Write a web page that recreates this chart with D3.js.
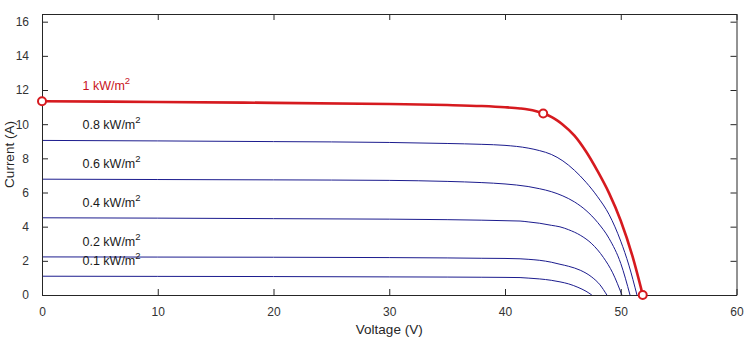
<!DOCTYPE html>
<html>
<head>
<meta charset="utf-8">
<script src="https://cdn.jsdelivr.net/npm/d3@7"></script>
<style>
  html, body { margin: 0; padding: 0; background: #fff; }
  svg { display: block; font-family: "Liberation Sans", Arial, sans-serif; }
</style>
</head>
<body>
<svg id="chart" width="747" height="347"></svg>
<script>
// ---- data ----
const seriesNames = ["1", "0.8", "0.6", "0.4", "0.2", "0.1"];

const v1  = [0, 10, 20, 30, 35, 38, 40, 41.3, 42, 42.7, 43.3, 44, 44.5, 45, 46, 47, 48, 49, 50, 51, 51.9];
const i1  = [11.34, 11.30, 11.25, 11.18, 11.12, 11.06, 10.99, 10.92, 10.86, 10.76, 10.63, 10.43, 10.22, 9.97, 9.33, 8.4, 7.25, 5.95, 4.35, 2.3, 0];

const v08 = [0, 10, 20, 30, 35, 38, 40, 42, 43, 44, 45, 46, 47, 48, 49, 50, 50.7, 51.4];
const i08 = [9.05, 9.02, 8.98, 8.93, 8.87, 8.82, 8.76, 8.6, 8.45, 8.23, 7.85, 7.3, 6.6, 5.75, 4.7, 3.15, 1.75, 0];

const v06 = [0, 10, 20, 30, 35, 38, 40, 42, 43, 44, 45, 46, 47, 48, 49, 50, 50.8];
const i06 = [6.78, 6.76, 6.74, 6.71, 6.65, 6.58, 6.5, 6.35, 6.22, 6.05, 5.8, 5.45, 4.95, 4.25, 3.3, 1.85, 0];

const v04 = [0, 10, 20, 30, 35, 38, 40, 41.3, 42, 43, 44, 44.75, 45.5, 46.5, 47.5, 48.5, 49.3, 50.1];
const i04 = [4.52, 4.5, 4.47, 4.44, 4.41, 4.38, 4.35, 4.33, 4.28, 4.2, 4.08, 3.99, 3.82, 3.5, 3.0, 2.2, 1.3, 0];

const v02 = [0, 10, 20, 30, 35, 38, 40, 41.3, 42, 43, 44, 44.75, 45.5, 46.5, 47.5, 48.2, 48.8];
const i02 = [2.23, 2.22, 2.21, 2.19, 2.17, 2.15, 2.14, 2.12, 2.09, 2.03, 1.92, 1.80, 1.68, 1.45, 1.05, 0.6, 0];

const v01 = [0, 10, 20, 30, 35, 38, 40, 41.3, 42, 43, 44, 44.75, 45.5, 46.3, 47, 47.5];
const i01 = [1.10, 1.09, 1.08, 1.06, 1.05, 1.04, 1.03, 1.02, 0.99, 0.94, 0.86, 0.77, 0.65, 0.45, 0.22, 0];

// marked points on the 1 kW/m2 curve: Isc, MPP, Voc
const markerV = [0, 43.3, 51.9];
const markerI = [11.34, 10.63, 0];

// label anchor positions (data units)
const labelV = [3.5, 3.5, 3.5, 3.5, 3.5, 3.5];
const labelI = [12.0, 9.71, 7.45, 5.16, 2.88, 1.75];

const xTicks = [0, 10, 20, 30, 40, 50, 60];
const yTicks = [0, 2, 4, 6, 8, 10, 12, 14, 16];

// ---- chart ----
const svg = d3.select("#chart");
const padL = 42, padR = 736.5, padT = 14, padB = 295;

const x = d3.scaleLinear().domain([0, 60]).range([padL, padR]);
const y = d3.scaleLinear().domain([0, 16.45]).range([padB, padT]);

const curves = [
  { name: seriesNames[0], v: v1,  i: i1,  color: "#d61a1f", width: 2.6 },
  { name: seriesNames[1], v: v08, i: i08, color: "#1c1c8e", width: 1 },
  { name: seriesNames[2], v: v06, i: i06, color: "#1c1c8e", width: 1 },
  { name: seriesNames[3], v: v04, i: i04, color: "#1c1c8e", width: 1 },
  { name: seriesNames[4], v: v02, i: i02, color: "#1c1c8e", width: 1 },
  { name: seriesNames[5], v: v01, i: i01, color: "#1c1c8e", width: 1 }
];

const line = d3.line()
  .x(d => x(d[0]))
  .y(d => y(d[1]))
  .curve(d3.curveMonotoneX);

// draw blue first, red on top
const order = [1, 2, 3, 4, 5, 0];
order.forEach(k => {
  const c = curves[k];
  svg.append("path")
    .datum(c.v.map((vv, j) => [vv, c.i[j]]))
    .attr("fill", "none")
    .attr("stroke", c.color)
    .attr("stroke-width", c.width)
    .attr("stroke-linejoin", "round")
    .attr("d", line);
});

// axes box with inward ticks
const tickLen = 6;
const axisColor = "#262626";
const gx = svg.append("g").attr("transform", `translate(0,${padB})`)
  .call(d3.axisBottom(x).tickValues(xTicks).tickSizeInner(-tickLen).tickSizeOuter(0).tickPadding(12));
const gxTop = svg.append("g").attr("transform", `translate(0,${padT})`)
  .call(d3.axisTop(x).tickValues(xTicks).tickSizeInner(-tickLen).tickSizeOuter(0).tickFormat(""));
const gy = svg.append("g").attr("transform", `translate(${padL},0)`)
  .call(d3.axisLeft(y).tickValues(yTicks).tickSizeInner(-tickLen).tickSizeOuter(0).tickPadding(13));
const gyR = svg.append("g").attr("transform", `translate(${padR},0)`)
  .call(d3.axisRight(y).tickValues(yTicks).tickSizeInner(-tickLen).tickSizeOuter(0).tickFormat(""));

[gx, gxTop, gy, gyR].forEach(g => {
  g.select(".domain").attr("stroke", axisColor).attr("stroke-width", 1);
  g.selectAll(".tick line").attr("stroke", axisColor).attr("stroke-width", 1);
  g.selectAll(".tick text").attr("fill", "#333").style("font-size", "12px")
    .style("font-family", "'Liberation Sans', Arial, sans-serif");
});

// markers
svg.append("g").selectAll("circle")
  .data(markerV.map((vv, j) => [vv, markerI[j]]))
  .join("circle")
  .attr("cx", d => x(d[0]))
  .attr("cy", d => y(d[1]))
  .attr("r", 4)
  .attr("fill", "#fff")
  .attr("stroke", "#d61a1f")
  .attr("stroke-width", 2);

// curve labels
curves.forEach((c, k) => {
  const t = svg.append("text")
    .attr("x", x(labelV[k]))
    .attr("y", y(labelI[k]))
    .attr("fill", k === 0 ? "#c8141c" : "#1a1a1a")
    .style("font-size", "12.5px");
  t.append("tspan").text(c.name + " kW/m");
  t.append("tspan").attr("dy", -6).style("font-size", "9.5px").text("2");
});

// axis titles
svg.append("text")
  .attr("x", (padL + padR) / 2)
  .attr("y", 334)
  .attr("text-anchor", "middle")
  .attr("fill", "#262626")
  .style("font-size", "13.5px")
  .text("Voltage (V)");

svg.append("text")
  .attr("transform", `translate(14,${(padT + padB) / 2}) rotate(-90)`)
  .attr("text-anchor", "middle")
  .attr("fill", "#262626")
  .style("font-size", "13.5px")
  .text("Current (A)");
</script>
</body>
</html>
